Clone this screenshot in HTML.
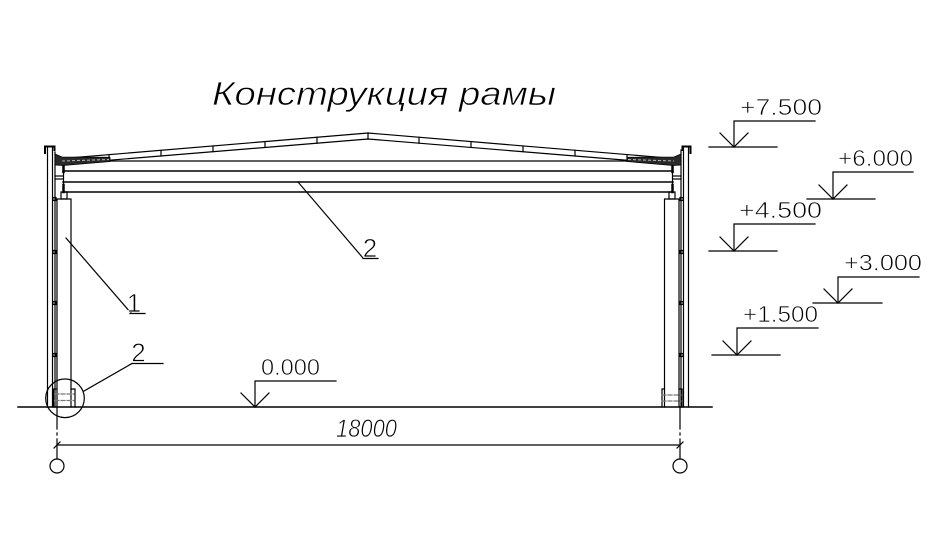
<!DOCTYPE html>
<html><head><meta charset="utf-8">
<style>
html,body{margin:0;padding:0;background:#fff;}
svg{display:block;}
text{font-family:"Liberation Sans",sans-serif;fill:#000;stroke:#fff;stroke-width:0.7;paint-order:normal;}
</style></head>
<body>
<svg width="936" height="534" viewBox="0 0 936 534" xmlns="http://www.w3.org/2000/svg">
<rect width="936" height="534" fill="#fff"/>

<!-- Title -->
<text x="212" y="105" font-size="33" font-style="italic" textLength="344" lengthAdjust="spacingAndGlyphs">Конструкция рамы</text>

<g stroke="#000" fill="none" stroke-width="1.2" stroke-linecap="square">
  <!-- roof lines -->
  <polyline points="57,159 368,133 680,159"/>
  <polyline points="63,164 368,139 673,164"/>
  <line x1="368" y1="133" x2="368" y2="139"/>
  <!-- purlin ticks -->
  <line x1="317" y1="137.3" x2="317" y2="143.2"/>
  <line x1="265" y1="141.6" x2="265" y2="147.4"/>
  <line x1="213" y1="146" x2="213" y2="151.7"/>
  <line x1="161" y1="150.3" x2="161" y2="156"/>
  <line x1="109" y1="154.7" x2="109" y2="160.2"/>
  <line x1="419" y1="137.3" x2="419" y2="143.2"/>
  <line x1="471" y1="141.6" x2="471" y2="147.4"/>
  <line x1="523" y1="146" x2="523" y2="151.7"/>
  <line x1="575" y1="150.3" x2="575" y2="156"/>
  <line x1="627" y1="154.7" x2="627" y2="160.2"/>

  <!-- beams -->
  <line x1="63" y1="161" x2="673" y2="161"/>
  <line x1="63" y1="171" x2="673" y2="171" stroke-width="1.4"/>
  <line x1="63" y1="182" x2="673" y2="182" stroke-width="1.4"/>
  <line x1="63" y1="192" x2="673" y2="192" stroke-width="1.4"/>
  <line x1="63.5" y1="161" x2="63.5" y2="192"/>
  <line x1="672.5" y1="161" x2="672.5" y2="192"/>
  <line x1="63.5" y1="165" x2="63.5" y2="172" stroke-width="2.5"/>
  <line x1="63.5" y1="185" x2="63.5" y2="192" stroke-width="2.5"/>
  <line x1="672.5" y1="165" x2="672.5" y2="172" stroke-width="2.5"/>
  <line x1="672.5" y1="185" x2="672.5" y2="192" stroke-width="2.5"/>
  <!-- small horizontal ties -->
  <line x1="55" y1="176" x2="63" y2="176"/>
  <line x1="55" y1="179" x2="63" y2="179"/>
  <line x1="673" y1="176" x2="681" y2="176"/>
  <line x1="673" y1="179" x2="681" y2="179"/>

  <!-- column caps -->
  <rect x="61" y="192" width="6" height="7"/>
  <rect x="669" y="192" width="6" height="7"/>

  <!-- left column & wall -->
  <polyline points="57,407 57,199 71,199 71,407"/>
  <line x1="47.5" y1="147" x2="47.5" y2="407"/>
  <line x1="52.5" y1="148" x2="52.5" y2="407"/>
  <line x1="55" y1="152" x2="55" y2="407"/>
  <path d="M45,153 V146.5 H54.5 V150" stroke-width="2"/>
  <!-- right column & wall -->
  <polyline points="664.5,407 664.5,199 679,199 679,407"/>
  <line x1="681" y1="150" x2="681" y2="407"/>
  <line x1="683.5" y1="148" x2="683.5" y2="407"/>
  <line x1="688.5" y1="147" x2="688.5" y2="407"/>
  <path d="M690.5,153 V146.5 H682.5 V150" stroke-width="2"/>

  <!-- girts -->
  <rect x="53" y="197.5" width="3" height="3"/>
  <rect x="53" y="250.5" width="3" height="3"/>
  <rect x="53" y="301.5" width="3" height="3"/>
  <rect x="53" y="353.5" width="3" height="3"/>
  <rect x="680" y="197.5" width="3" height="3"/>
  <rect x="680" y="250.5" width="3" height="3"/>
  <rect x="680" y="301.5" width="3" height="3"/>
  <rect x="680" y="353.5" width="3" height="3"/>

  <!-- base details -->
  <path d="M71,389 H75 V407"/>
  <path d="M56,389 H53.5 V407"/>
  <path d="M664.5,389 H662 V407"/>
  <path d="M679,389 H682 V407"/>
  <g stroke="#777" stroke-dasharray="4 2">
    <line x1="55" y1="394" x2="74" y2="394"/>
    <line x1="55" y1="400.5" x2="74" y2="400.5"/>
    <line x1="662" y1="395" x2="681" y2="395"/>
    <line x1="662" y1="401" x2="681" y2="401"/>
  </g>
  <circle cx="65" cy="398.3" r="19.3"/>

  <!-- ground -->
  <line x1="18" y1="407" x2="712" y2="407" stroke-width="1.5"/>

  <!-- axes -->
  <line x1="57" y1="407" x2="57" y2="459" stroke-dasharray="22 4 2 4"/>
  <line x1="680" y1="407" x2="680" y2="459" stroke-dasharray="22 4 2 4"/>
  <circle cx="57" cy="466" r="7"/>
  <circle cx="680" cy="466" r="7"/>
  <line x1="57" y1="445" x2="680" y2="445"/>
  <line x1="54" y1="448" x2="60" y2="442"/>
  <line x1="677" y1="448" x2="683" y2="442"/>

  <!-- leaders -->
  <line x1="66" y1="238" x2="131" y2="313"/>
  <line x1="130" y1="313.5" x2="145" y2="313.5"/>
  <line x1="298" y1="182" x2="363" y2="258"/>
  <line x1="363" y1="258.5" x2="378" y2="258.5"/>
  <line x1="84" y1="391" x2="132" y2="363.5"/>
  <line x1="132" y1="363.5" x2="163" y2="363.5"/>

  <!-- level marks -->
  <polyline points="815,121 734,121 734,147"/>
  <polyline points="720,133 734,147 748,133"/>
  <line x1="709" y1="147" x2="777" y2="147"/>

  <polyline points="913,172 833,172 833,199"/>
  <polyline points="819,185 833,199 847,185"/>
  <line x1="807" y1="199" x2="875" y2="199"/>

  <polyline points="815,224 734,224 734,251"/>
  <polyline points="720,237 734,251 748,237"/>
  <line x1="709" y1="251" x2="777" y2="251"/>

  <polyline points="919,277 838,277 838,303"/>
  <polyline points="824,289 838,303 852,289"/>
  <line x1="813" y1="303" x2="882" y2="303"/>

  <polyline points="818,328 737,328 737,355"/>
  <polyline points="723,341 737,355 751,341"/>
  <line x1="712" y1="355" x2="780" y2="355"/>

  <polyline points="336,381 255,381 255,407"/>
  <polyline points="241,393 255,407 269,393"/>
</g>

<!-- insulation bands at eaves -->
<g fill="#2a2a2a" stroke="#000" stroke-width="0.8">
  <polygon points="55,154 62,157 110,157.3 110,161.5 63,165.5 55,165"/>
  <polygon points="681,154 674,157 627,157.3 627,161.5 673,165.5 681,165"/>
</g>
<g stroke="#bbb" stroke-width="1" stroke-dasharray="3 2" fill="none">
  <line x1="62" y1="161" x2="109" y2="159.5"/>
  <line x1="628" y1="159.5" x2="674" y2="161"/>
</g>

<!-- labels -->
<text x="134" y="312" font-size="26" text-anchor="middle">1</text>
<text x="370" y="257" font-size="26" text-anchor="middle">2</text>
<text x="138.5" y="361.5" font-size="26" text-anchor="middle">2</text>

<text x="740" y="115" font-size="23" textLength="82" lengthAdjust="spacingAndGlyphs">+7.500</text>
<text x="838" y="166" font-size="23" textLength="75" lengthAdjust="spacingAndGlyphs">+6.000</text>
<text x="739" y="218" font-size="23" textLength="83" lengthAdjust="spacingAndGlyphs">+4.500</text>
<text x="844" y="270.5" font-size="23" textLength="78" lengthAdjust="spacingAndGlyphs">+3.000</text>
<text x="743" y="322" font-size="23" textLength="75" lengthAdjust="spacingAndGlyphs">+1.500</text>
<text x="261" y="375" font-size="23" textLength="59" lengthAdjust="spacingAndGlyphs">0.000</text>
<text x="336" y="437" font-size="25" font-style="italic" textLength="61" lengthAdjust="spacingAndGlyphs">18000</text>
</svg>
</body></html>
